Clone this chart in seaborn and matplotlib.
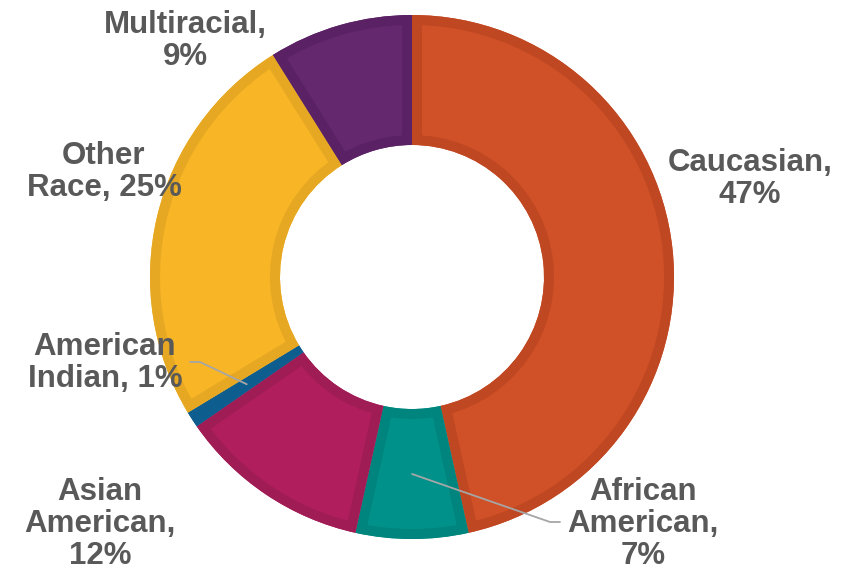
import matplotlib
matplotlib.use("Agg")
import matplotlib.pyplot as plt
from matplotlib.patches import Wedge
import numpy as np
import seaborn as sns

sns.set_theme(style="white")
plt.rcParams["font.family"] = ["Liberation Sans", "DejaVu Sans"]

# Population share by race (clockwise from 12 o'clock)
categories = ["Caucasian", "African American", "Asian American",
              "American Indian", "Other Race", "Multiracial"]
shares = [47, 7, 12, 1, 25, 9]
fill_colors = ["#D05127", "#00928A", "#B01E5E", "#0D5E8F", "#F8B626", "#64286F"]
edge_colors = ["#BF4722", "#00857E", "#9F1C55", "#0D5E8F", "#E6A723", "#5A2264"]
label_texts = ["Caucasian,\n47%", "African\nAmerican,\n7%", "Asian\nAmerican,\n12%",
               "American\nIndian, 1%", "Other\nRace, 25%", "Multiracial,\n9%"]

W, H = 853, 574
fig = plt.figure(figsize=(W / 100, H / 100), dpi=100)
ax = fig.add_axes([0, 0, 1, 1])
ax.set_xlim(0, W)
ax.set_ylim(0, H)
ax.set_aspect("equal")
ax.axis("off")

cx, cy = 412, 297
r_out, ring = 262, 130

wedges, _ = ax.pie(shares, colors=fill_colors, startangle=90, counterclock=False,
                   center=(cx, cy), radius=r_out,
                   wedgeprops=dict(width=ring, linewidth=0))
ax.set_xlim(0, W)
ax.set_ylim(0, H)

# darker inner border on each segment, clipped to the segment itself
border_px = 10
for w, ec in zip(wedges, edge_colors):
    b = Wedge(w.center, w.r, w.theta1, w.theta2, width=w.width,
              facecolor="none", edgecolor=ec, linewidth=2 * border_px * 0.72,
              joinstyle="miter")
    b.set_clip_path(w)
    ax.add_patch(b)

# label placement (x, y) in canvas units
label_pos = [(750, 395), (643, 50), (100, 50), (105, 211), (104, 402), (185, 533)]
for txt, (x, y) in zip(label_texts, label_pos):
    ax.text(x, y, txt, ha="center", va="center", fontsize=22.5,
            fontweight="bold", color="#595959", linespacing=1.08)

# leader lines from the middle of the ring to the small-segment labels
def ring_mid(wedge):
    ang = np.deg2rad((wedge.theta1 + wedge.theta2) / 2)
    rm = wedge.r - wedge.width / 2
    return cx + rm * np.cos(ang), cy + rm * np.sin(ang)

tip = ring_mid(wedges[3])
ax.plot([190, 200, tip[0]], [H - 362, H - 362, tip[1]], color="#A6A6A6", lw=1.3)
tip = ring_mid(wedges[1])
ax.plot([560, 550, tip[0]], [H - 522, H - 522, tip[1]], color="#A6A6A6", lw=1.3)

fig.savefig("out.png", dpi=100, facecolor="white")
